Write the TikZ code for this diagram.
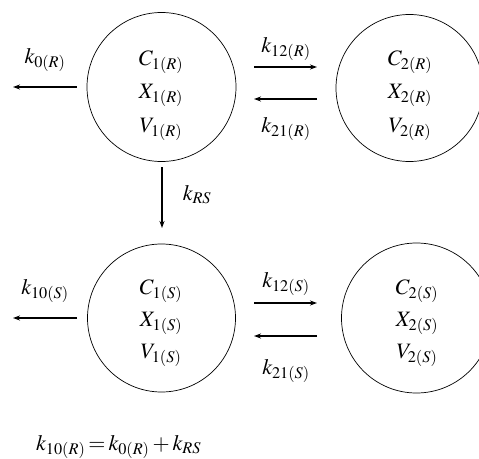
\documentclass[tikz,border=0pt]{standalone}
\usepackage{mathptmx}
\usetikzlibrary{arrows.meta,calc}
\begin{document}
\begin{tikzpicture}[x=1pt,y=-1pt,
  comp/.style={draw, circle, line width=0.7pt, inner sep=0pt},
  lbl/.style={anchor=base, inner sep=0pt, font=\fontsize{22}{26}\selectfont},
  flow/.style={line width=1.2pt, -{Stealth[length=7pt,width=5pt]}}]
\useasboundingbox (0,0) rectangle (479,458);
% compartments
\node[comp, minimum size=149pt] (c1r) at (161.5,87) {};
\node[comp, minimum size=147pt] (c2r) at (409.5,88) {};
\node[comp, minimum size=148pt] (c1s) at (161.5,318) {};
\node[comp, minimum size=150pt] (c2s) at (416.5,318) {};
% texts
\node[lbl] (t1) at (161,65) {$C_{1(R)}$};
\node[lbl] (t2) at (161,98) {$X_{1(R)}$};
\node[lbl] (t3) at (161,132) {$V_{1(R)}$};
\node[lbl] (t4) at (410,65) {$C_{2(R)}$};
\node[lbl] (t5) at (410,98) {$X_{2(R)}$};
\node[lbl] (t6) at (410,132) {$V_{2(R)}$};
\node[lbl] (t7) at (161,294) {$C_{1(S)}$};
\node[lbl] (t8) at (161,326) {$X_{1(S)}$};
\node[lbl] (t9) at (161,358) {$V_{1(S)}$};
\node[lbl] (t10) at (417,294) {$C_{2(S)}$};
\node[lbl] (t11) at (417,326) {$X_{2(S)}$};
\node[lbl] (t12) at (417,358) {$V_{2(S)}$};
% arrow end points
\coordinate (e0r) at (13,87);
\coordinate (e0s) at (13,318);
% top row arrows
\draw[flow] (c1r.west |- 0,87) ++(-10,0) coordinate (s0r) -- (e0r);
\coordinate (a12rs) at (254,67); \coordinate (a12re) at (317,67);
\coordinate (a21rs) at (317,99); \coordinate (a21re) at (254,99);
\draw[flow] (a12rs) -- (a12re);
\draw[flow] (a21rs) -- (a21re);
\coordinate (rss) at (162,167); \coordinate (rse) at (162,228);
\draw[flow] (rss) -- (rse);
% bottom row arrows
\draw[flow] (c1s.west |- 0,318) ++(-10,0) coordinate (s0s) -- (e0s);
\coordinate (a12ss) at (254,303); \coordinate (a12se) at (317,303);
\coordinate (a21ss) at (317,336); \coordinate (a21se) at (254,336);
\draw[flow] (a12ss) -- (a12se);
\draw[flow] (a21ss) -- (a21se);
% labels
\node[lbl] (k0r) at (45,63) {$k_{0(R)}$};
\node[lbl] (k12r) at (286,52) {$k_{12(R)}$};
\node[lbl] (k21r) at (286,132) {$k_{21(R)}$};
\node[lbl] (krs) at (197,200) {$k_{RS}$};
\node[lbl] (k10s) at (45,294) {$k_{10(S)}$};
\node[lbl] (k12s) at (286,287) {$k_{12(S)}$};
\node[lbl] (k21s) at (286,374) {$k_{21(S)}$};
\node[lbl, anchor=base west] (eq) at (36,450) {\thickmuskip=2.5mu\medmuskip=2.5mu$k_{10(R)} = k_{0(R)} + k_{RS}$};
\end{tikzpicture}
\end{document}
